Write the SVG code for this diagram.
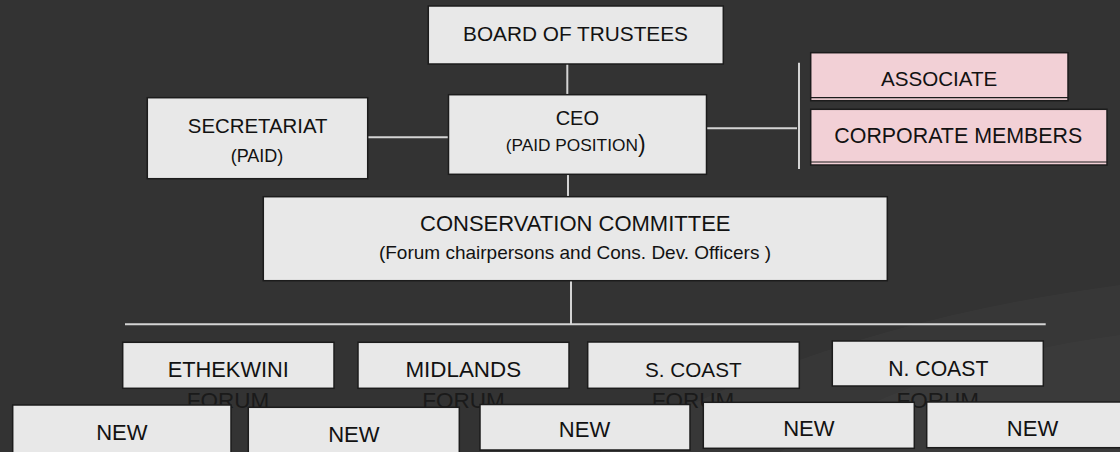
<svg xmlns="http://www.w3.org/2000/svg" width="1120" height="452" viewBox="0 0 1120 452">
  <style>
    .box { fill: #e8e8e8; stroke: #1c1c1c; stroke-width: 1.5; }
    .pink { fill: #f2d0d6; stroke: #1c1c1c; stroke-width: 1.5; }
    .lbl { font-family: "Liberation Sans", Arial, sans-serif; fill: #121212; text-anchor: middle; }
    .forum { font-family: "Liberation Sans", Arial, sans-serif; fill: #1a1a1a; text-anchor: middle; font-size: 22.5px; }
    .conn { stroke: #d4d4d4; stroke-width: 2; fill: none; }
  </style>
  <rect x="0" y="0" width="1120" height="452" fill="#333333"/>
  <path d="M600,452 C760,360 930,310 1120,285 L1120,452 Z" fill="#ffffff" fill-opacity="0.025"/>
  <path d="M780,452 C880,390 1000,350 1120,335 L1120,452 Z" fill="#ffffff" fill-opacity="0.02"/>

  <g id="connectors">
    <line class="conn" x1="567.3" y1="64" x2="567.3" y2="95"/>
    <line class="conn" x1="368" y1="137.3" x2="449" y2="137.3"/>
    <line class="conn" x1="706.5" y1="128.3" x2="797" y2="128.3"/>
    <line class="conn" x1="799" y1="62.7" x2="799" y2="169"/>
    <line class="conn" x1="568" y1="174.5" x2="568" y2="197"/>
    <line class="conn" x1="571" y1="281" x2="571" y2="324.3"/>
    <line class="conn" x1="125" y1="324.3" x2="1045.7" y2="324.3"/>
  </g>

  <g id="board">
    <rect class="box" x="428.3" y="6" width="295" height="58"/>
    <text class="lbl" x="575.5" y="40.7" font-size="20.8">BOARD OF TRUSTEES</text>
  </g>

  <g id="secretariat">
    <rect class="box" x="147.3" y="97.7" width="220.4" height="81"/>
    <text class="lbl" x="257.7" y="132.7" font-size="20.4">SECRETARIAT</text>
    <text class="lbl" x="257" y="161.7" font-size="18">(PAID)</text>
  </g>

  <g id="ceo">
    <rect class="box" x="448.5" y="94.7" width="258" height="79.6"/>
    <text class="lbl" x="577.3" y="124.7" font-size="20">CEO</text>
    <text class="lbl" x="505.7" y="151" style="text-anchor:start"><tspan font-size="17.3">(PAID POSITION</tspan><tspan font-size="23" dy="1">)</tspan></text>
  </g>

  <g id="associate">
    <rect class="pink" x="810.7" y="52.7" width="257.3" height="48"/>
    <line x1="810.7" y1="97.7" x2="1068" y2="97.7" stroke="#1c1c1c" stroke-width="1.2"/>
    <text class="lbl" x="939.2" y="86" font-size="20.6">ASSOCIATE</text>
  </g>

  <g id="corporate-members">
    <rect class="pink" x="810.7" y="109.3" width="296.3" height="55.7"/>
    <line x1="810.7" y1="162" x2="1107" y2="162" stroke="#1c1c1c" stroke-width="1.2"/>
    <text class="lbl" x="958.3" y="143.3" font-size="21.4">CORPORATE MEMBERS</text>
  </g>

  <g id="conservation-committee">
    <rect class="box" x="263.3" y="196.7" width="624" height="84"/>
    <text class="lbl" x="575.3" y="231" font-size="22">CONSERVATION COMMITTEE</text>
    <text class="lbl" x="575" y="259" font-size="19">(Forum chairpersons and Cons. Dev. Officers )</text>
  </g>

  <g id="ethekwini-forum">
    <rect class="box" x="122.7" y="342.3" width="211.3" height="46"/>
    <text class="lbl" x="228.3" y="376.7" font-size="21.8">ETHEKWINI</text>
    <text class="forum" x="228" y="407.7">FORUM</text>
  </g>

  <g id="midlands-forum">
    <rect class="box" x="358" y="342.3" width="211" height="46"/>
    <text class="lbl" x="463.3" y="376.7" font-size="22.4">MIDLANDS</text>
    <text class="forum" x="463.5" y="407.7">FORUM</text>
  </g>

  <g id="s-coast-forum">
    <rect class="box" x="587.7" y="342" width="211.6" height="46.3"/>
    <text class="lbl" x="693.3" y="376.7" font-size="20.7">S. COAST</text>
    <text class="forum" x="693" y="407.7">FORUM</text>
  </g>

  <g id="n-coast-forum">
    <rect class="box" x="832.3" y="341" width="211" height="45"/>
    <text class="lbl" x="938.3" y="375.7" font-size="21.2">N. COAST</text>
    <text class="forum" x="937.8" y="407.7">FORUM</text>
  </g>

  <g id="new-1">
    <rect class="box" x="12.7" y="405" width="218.3" height="60"/>
    <text class="lbl" x="121.9" y="440" font-size="22">NEW</text>
  </g>

  <g id="new-2">
    <rect class="box" x="248.3" y="407.3" width="211" height="60"/>
    <text class="lbl" x="353.8" y="441.7" font-size="22">NEW</text>
  </g>

  <g id="new-3">
    <rect class="box" x="480" y="404.5" width="210" height="45.5"/>
    <text class="lbl" x="584.5" y="436.7" font-size="22">NEW</text>
  </g>

  <g id="new-4">
    <rect class="box" x="703.3" y="402.3" width="211" height="46"/>
    <text class="lbl" x="808.8" y="436" font-size="22">NEW</text>
  </g>

  <g id="new-5">
    <rect class="box" x="926.7" y="402" width="211.3" height="45.7"/>
    <text class="lbl" x="1032.5" y="436" font-size="22">NEW</text>
  </g>
</svg>
